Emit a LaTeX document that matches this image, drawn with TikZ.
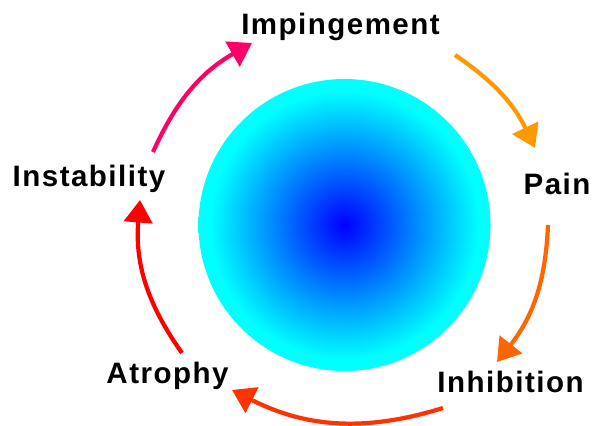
\documentclass[tikz,border=0pt]{standalone}
\usepackage{fontspec}
\setmainfont{Liberation Sans}[LetterSpace=5]
\usetikzlibrary{arrows.meta}

\definecolor{impcol}{RGB}{255,0,102}
\definecolor{paincol}{RGB}{255,153,0}
\definecolor{inhcol}{RGB}{255,102,0}
\definecolor{atrcol}{RGB}{255,51,0}
\definecolor{inscol}{RGB}{255,0,0}

\pgfdeclareradialshading{hubglow}{\pgfpointorigin}{rgb(0bp)=(0,0,1); rgb(12.5bp)=(0,0.55,1); rgb(23bp)=(0,1,1); rgb(25bp)=(0,1,1); rgb(50bp)=(0,1,1)}

\begin{document}
\begin{tikzpicture}[
    stage/.style={font=\bfseries\fontsize{21}{25}\selectfont, anchor=base, inner sep=0pt},
    cycarrow/.style={line width=3pt, -{Triangle[length=16pt,width=20pt]}, bend left=#1},
  ]
  \useasboundingbox (0,0) rectangle (14.875,10.625);

  \node [circle, minimum size=7.3cm, inner sep=0pt, shading=hubglow] (hub) at (8.6125,5) {};

  \node [stage] (imp) at (8.5125,9.75)  {Impingement};
  \node [stage] (pain) at (13.925,5.75) {Pain};
  \node [stage] (inh) at (12.7625,0.825) {Inhibition};
  \node [stage] (atr) at (4.1875,1.05)  {Atrophy};
  \node [stage] (ins) at (2.225,5.95)   {Instability};

  % ends of the arrows round the ring
  \coordinate (ins-out) at (3.825,6.825);
  \coordinate (imp-in)  at (6.3,9.55);
  \coordinate (imp-out) at (11.375,9.25);
  \coordinate (pain-in) at (13.375,6.925);
  \coordinate (pain-out) at (13.7,5.0);
  \coordinate (inh-in)  at (12.425,1.575);
  \coordinate (inh-out) at (11.075,0.425);
  \coordinate (atr-in)  at (5.8,0.875);
  \coordinate (atr-out) at (4.55,1.8);
  \coordinate (ins-in)  at (3.5,5.625);

  \draw [impcol, cycarrow=18]  (ins-out) to (imp-in);
  \draw [paincol, cycarrow=15] (imp-out) to (pain-in);
  \draw [inhcol, cycarrow=18]  (pain-out) to (inh-in);
  \draw [atrcol, cycarrow=22]  (inh-out) to (atr-in);
  \draw [inscol, cycarrow=20]  (atr-out) to (ins-in);
\end{tikzpicture}
\end{document}
